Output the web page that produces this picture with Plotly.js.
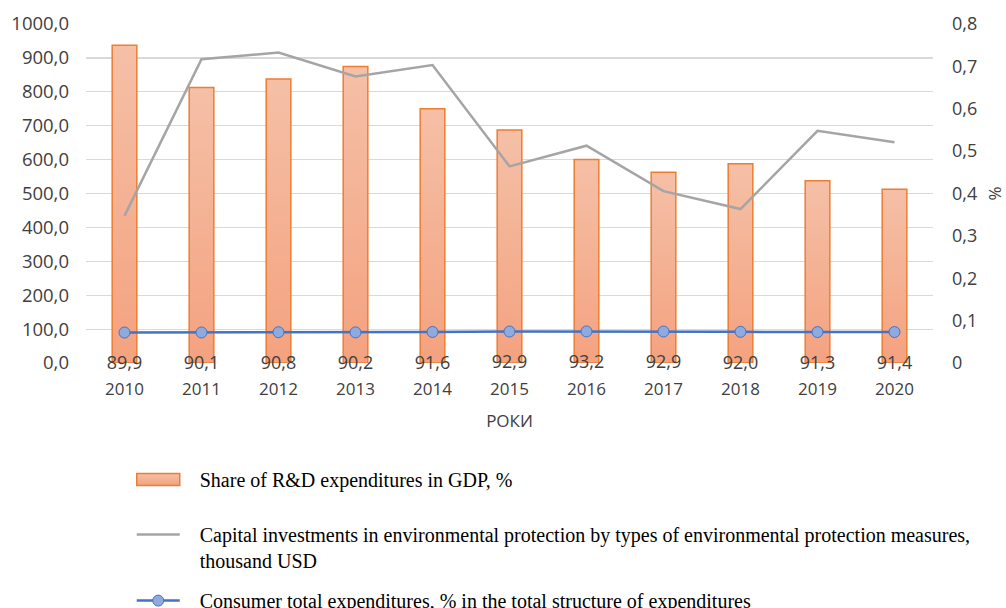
<!DOCTYPE html>
<html>
<head>
<meta charset="utf-8">
<script src="https://cdn.plot.ly/plotly-3.0.1.min.js"></script>
<style>
  html, body { margin: 0; padding: 0; background: #ffffff; }
  #chart { width: 1006px; height: 608px; }
</style>
</head>
<body>
<div id="chart"></div>
<script>
// ---- data ----
const years = ['2010','2011','2012','2013','2014','2015','2016','2017','2018','2019','2020'];
const rdShare = [0.75, 0.65, 0.67, 0.70, 0.60, 0.55, 0.48, 0.45, 0.47, 0.43, 0.41];
const capitalInvest = [434, 896, 916, 845, 879, 580, 641, 507, 454, 685, 651];
const consumerExp = [89.9, 90.1, 90.8, 90.2, 91.6, 92.9, 93.2, 92.9, 92.0, 91.3, 91.4];

const nameRD = 'Share of R&D expenditures in GDP, %';
const nameCap = 'Capital investments in environmental protection by types of environmental protection measures,';
const nameCap2 = 'thousand USD';
const nameCons = 'Consumer total expenditures, % in the total structure of expenditures';
const xTitle = 'РОКИ';
const y2Title = '%';

const fmt = v => v.toFixed(1).replace('.', ',');
const pad = '&nbsp;&nbsp;&nbsp;';

const traces = [
  {
    type: 'bar', name: pad + nameRD + '<br>&nbsp;', x: years, y: rdShare, xaxis: 'x', yaxis: 'y',
    width: 0.32, legendgroup: 'g1',
    marker: { color: '#F4B092', line: { color: '#ED7D31', width: 1.5 } },
    hoverinfo: 'skip'
  },
  {
    type: 'scatter', mode: 'lines', name: pad + nameCap + '<br>' + pad + nameCap2, x: years, y: capitalInvest,
    xaxis: 'x', yaxis: 'y2', legendgroup: 'g1',
    line: { color: '#A5A5A5', width: 2.5 },
    hoverinfo: 'skip'
  },
  {
    type: 'scatter', mode: 'lines+markers', name: pad + nameCons, x: years, y: consumerExp,
    xaxis: 'x', yaxis: 'y2', legendgroup: 'g2',
    line: { color: '#4472C4', width: 2.5 },
    marker: { symbol: 'circle', size: 11, color: '#8FAADC', line: { color: '#4472C4', width: 1 } },
    hoverinfo: 'skip'
  },
  {
    // value labels of the consumer-expenditure series
    type: 'scatter', mode: 'text', x: years, y: consumerExp,
    xaxis: 'x', yaxis: 'y2', showlegend: false, cliponaxis: false,
    text: consumerExp.map(v => '<br>' + fmt(v)),
    textposition: 'bottom center',
    textfont: { family: 'Open Sans, sans-serif', size: 18, color: '#404040' },
    hoverinfo: 'skip'
  }
];

const layout = {
  width: 1006, height: 608,
  margin: { l: 86, r: 73, t: 24, b: 245, autoexpand: false },
  paper_bgcolor: '#ffffff', plot_bgcolor: '#ffffff',
  separators: ', ',
  font: { family: 'Open Sans, sans-serif', size: 17, color: '#404040' },
  showlegend: true,
  xaxis: {
    type: 'category', range: [-0.5, 10.5],
    showgrid: false, zeroline: false, showline: false, ticks: '',
    tickfont: { size: 17, color: '#404040' },
    ticklabelstandoff: 14,
    title: { text: xTitle, font: { size: 17, color: '#404040' }, standoff: 16 }
  },
  yaxis: {
    side: 'right', range: [0, 0.8], dtick: 0.1, tickformat: '.1~f',
    showgrid: false, zeroline: false, showline: false, ticks: '',
    tickfont: { size: 18, color: '#404040' },
    ticklabelstandoff: 18,
    title: { text: y2Title, font: { size: 17, color: '#404040' }, standoff: 23 }
  },
  yaxis2: {
    overlaying: 'y', side: 'left', range: [0, 1000], dtick: 100, tickformat: '.1f',
    showgrid: true, gridcolor: '#D9D9D9', gridwidth: 1.2,
    zeroline: false, showline: false, ticks: '',
    tickfont: { size: 18.5, color: '#404040' },
    ticklabelstandoff: 16
  },
  legend: {
    orientation: 'v', x: 0.054, xanchor: 'left', y: -0.2864, yanchor: 'top',
    valign: 'top', itemwidth: 43, traceorder: 'grouped', tracegroupgap: 11,
    font: { family: 'Liberation Serif, Times New Roman, serif', size: 20, color: '#000000' },
    bgcolor: 'rgba(0,0,0,0)'
  }
};

Plotly.newPlot('chart', traces, layout, { staticPlot: true, displayModeBar: false }).then(gd => {
  const svg = gd.querySelector('svg.main-svg');
  const ns = 'http://www.w3.org/2000/svg';
  let defs = svg.querySelector('defs');
  if (!defs) { defs = document.createElementNS(ns, 'defs'); svg.insertBefore(defs, svg.firstChild); }
  const grad = document.createElementNS(ns, 'linearGradient');
  grad.setAttribute('id', 'barGrad');
  grad.setAttribute('x1', '0'); grad.setAttribute('y1', '0');
  grad.setAttribute('x2', '0'); grad.setAttribute('y2', '1');
  [['0', '#F5C0A7'], ['1', '#F4A27F']].forEach(([o, c]) => {
    const s = document.createElementNS(ns, 'stop');
    s.setAttribute('offset', o); s.setAttribute('stop-color', c);
    grad.appendChild(s);
  });
  defs.appendChild(grad);
  gd.querySelectorAll('.barlayer .point path').forEach(p => { p.style.fill = 'url(#barGrad)'; });
  // widen the bar swatch in the legend to a rectangle like the reference
  const legTraces = gd.querySelectorAll('.legend .traces');
  if (legTraces.length) {
    const p = legTraces[0].querySelector('.legendpoints path');
    if (p) {
      const bb = p.getBBox();
      const cx = bb.x + bb.width / 2, cy = bb.y + bb.height / 2;
      const hw = 21.5, hh = 6;
      p.setAttribute('d', `M${cx + hw},${cy + hh}H${cx - hw}V${cy - hh}H${cx + hw}Z`);
      p.style.fill = 'url(#barGrad)';
    }
  }
});
</script>
</body>
</html>
